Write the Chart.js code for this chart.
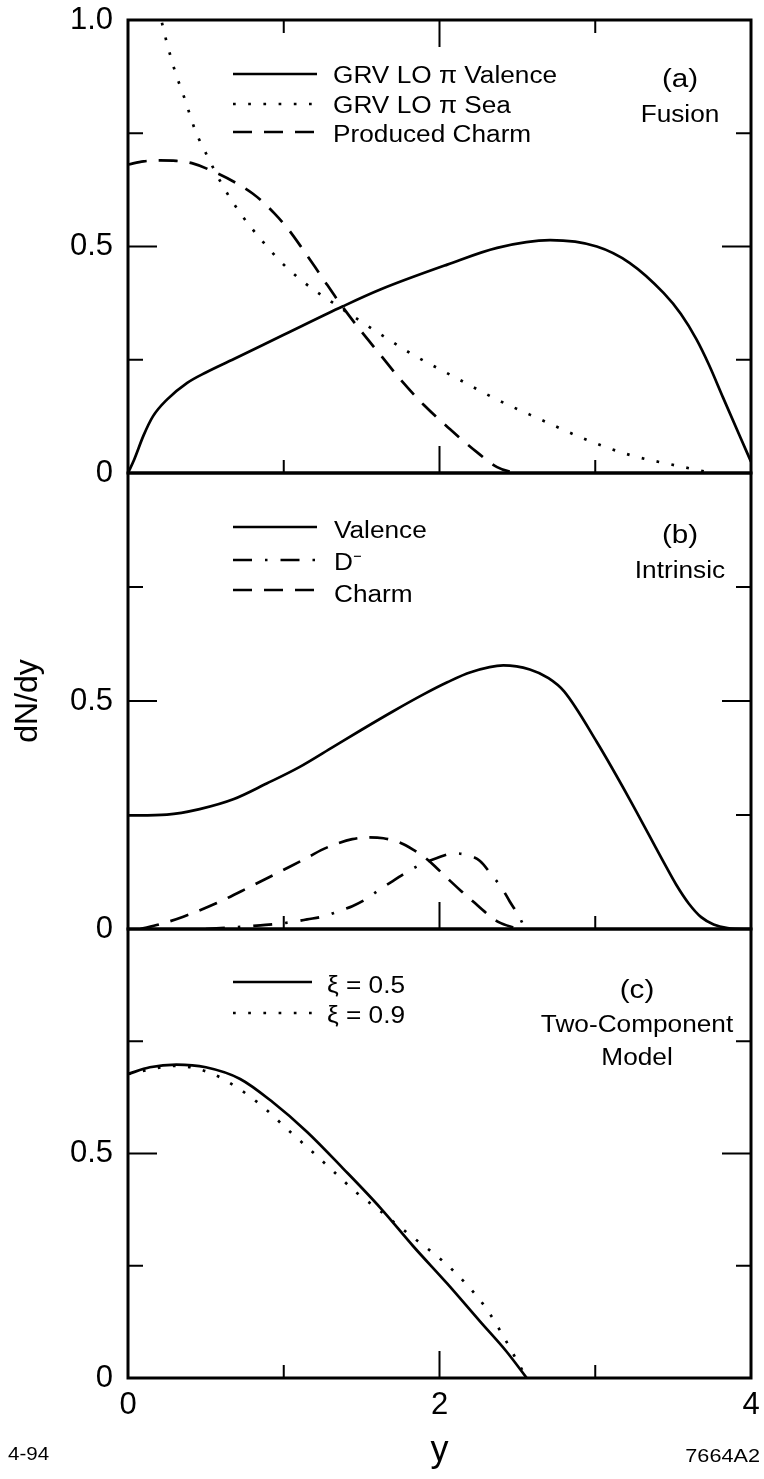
<!DOCTYPE html>
<html>
<head>
<meta charset="utf-8">
<title>dN/dy</title>
<script src="https://cdn.jsdelivr.net/npm/chart.js@4.4.1/dist/chart.umd.min.js"></script>
<style>
  body { margin: 0; background: #fff; }
  #page { position: relative; width: 764px; height: 1479px; overflow: hidden; background: #fff; }
  #page canvas { position: absolute; left: 0; }
</style>
</head>
<body>
<div id="page">
  <canvas id="panelA" width="764" height="500" style="top:0px"></canvas>
  <canvas id="panelB" width="764" height="500" style="top:450px"></canvas>
  <canvas id="panelC" width="764" height="579" style="top:900px"></canvas>
</div>
<script>
const FONT = '"Liberation Sans", Arial, Helvetica, sans-serif';
const STRETCH = 1.14; // the original lettering is a bit wide

// axis ticks (inner tick marks)
const yMarks = [0.25, 0.5, 0.75];
const xMarks = [1, 2, 3];

// (a) Fusion
const fusionValenceX = [0, 0.04, 0.1, 0.16, 0.25, 0.38, 0.5, 0.7, 1.0, 1.38, 1.62, 2.05, 2.37, 2.71, 3.01, 3.22, 3.44, 3.55, 3.65, 3.73, 3.82, 3.93, 4.0];
const fusionValenceY = [0, 0.03, 0.083, 0.125, 0.162, 0.199, 0.222, 0.255, 0.305, 0.368, 0.405, 0.46, 0.497, 0.514, 0.5, 0.464, 0.397, 0.351, 0.295, 0.239, 0.167, 0.08, 0.025];
const fusionSeaX = [0.18, 0.216, 0.29, 0.366, 0.43, 0.516, 0.61, 0.72, 0.85, 0.985, 1.14, 1.31, 1.48, 1.65, 1.82, 2.09, 2.37, 2.65, 2.94, 3.22, 3.54, 3.75];
const fusionSeaY = [1.06, 0.997, 0.9, 0.824, 0.758, 0.695, 0.633, 0.574, 0.517, 0.465, 0.418, 0.377, 0.338, 0.3, 0.263, 0.213, 0.162, 0.118, 0.074, 0.04, 0.015, 0];
const fusionCharmX = [0, 0.1, 0.205, 0.31, 0.41, 0.57, 0.72, 0.8, 0.87, 0.94, 1.02, 1.12, 1.24, 1.36, 1.49, 1.62, 1.75, 1.9, 2.07, 2.24, 2.37, 2.45, 2.52];
const fusionCharmY = [0.681, 0.688, 0.69, 0.689, 0.684, 0.662, 0.635, 0.617, 0.597, 0.573, 0.542, 0.495, 0.435, 0.375, 0.316, 0.261, 0.206, 0.15, 0.096, 0.046, 0.013, 0.003, 0];

// (b) Intrinsic
const intrValenceX = [0, 0.25, 0.46, 0.68, 0.89, 1.1, 1.32, 1.5, 1.7, 1.9, 2.05, 2.2, 2.41, 2.58, 2.7, 2.8, 3.01, 3.22, 3.44, 3.52, 3.6, 3.68, 3.76, 3.85, 3.95, 4.0];
const intrValenceY = [0.249, 0.251, 0.263, 0.285, 0.319, 0.355, 0.4, 0.437, 0.477, 0.515, 0.541, 0.563, 0.578, 0.569, 0.55, 0.521, 0.41, 0.285, 0.146, 0.097, 0.056, 0.026, 0.01, 0.002, 0, 0];
const intrDX = [0.5, 0.7, 0.85, 1.05, 1.15, 1.27, 1.35, 1.44, 1.54, 1.62, 1.7, 1.8, 1.89, 1.98, 2.09, 2.18, 2.26, 2.34, 2.4, 2.45, 2.51, 2.55];
const intrDY = [0, 0.004, 0.008, 0.015, 0.021, 0.029, 0.039, 0.05, 0.068, 0.088, 0.105, 0.127, 0.143, 0.155, 0.166, 0.162, 0.149, 0.116, 0.09, 0.061, 0.028, 0];
const intrCharmX = [0.08, 0.2, 0.355, 0.57, 0.78, 1.0, 1.16, 1.24, 1.34, 1.44, 1.54, 1.64, 1.74, 1.83, 1.92, 1.99, 2.07, 2.14, 2.22, 2.3, 2.38, 2.47, 2.52];
const intrCharmY = [0, 0.01, 0.027, 0.057, 0.092, 0.13, 0.158, 0.173, 0.187, 0.197, 0.201, 0.199, 0.19, 0.174, 0.153, 0.131, 0.105, 0.083, 0.059, 0.035, 0.015, 0.004, 0];

// (c) Two-Component Model
const xi05X = [0, 0.14, 0.31, 0.5, 0.72, 0.93, 1.15, 1.38, 1.62, 1.83, 2.05, 2.26, 2.43, 2.56];
const xi05Y = [0.677, 0.692, 0.698, 0.692, 0.666, 0.614, 0.548, 0.467, 0.379, 0.294, 0.21, 0.126, 0.059, 0];
const xi09X = [0, 0.31, 0.525, 0.7, 0.87, 1.02, 1.17, 1.32, 1.47, 1.62, 1.7, 1.86, 2.02, 2.17, 2.3, 2.4, 2.5, 2.56];
const xi09Y = [0.677, 0.695, 0.68, 0.647, 0.603, 0.555, 0.508, 0.46, 0.412, 0.372, 0.349, 0.305, 0.261, 0.21, 0.155, 0.099, 0.037, 0];

const pts = (xs, ys) => xs.map((x, i) => ({ x: x, y: ys[i] }));

function line(label, xs, ys, dash) {
    return {
        label: label,
        data: pts(xs, ys),
        borderColor: '#000',
        borderWidth: 2.7,
        borderDash: dash,
        pointRadius: 0,
        fill: false,
        tension: 0.4,
        cubicInterpolationMode: 'monotone'
    };
}

const SOLID = [];
const DOTS = [2.7, 12.5];
const DASH = [19, 12];
const DASHDOT = [19, 13, 2.5, 13];

// box, inner ticks
const framePlugin = {
    id: 'frame',
    afterDatasetsDraw(chart, args, opts) {
        const ctx = chart.ctx;
        const a = chart.chartArea;
        const xs = chart.scales.x, ys = chart.scales.y;
        ctx.save();
        ctx.strokeStyle = '#000';
        ctx.lineWidth = 2;
        ctx.beginPath();
        yMarks.forEach(v => {
            const py = ys.getPixelForValue(v);
            const len = v === 0.5 ? 29 : 15;
            ctx.moveTo(a.left, py); ctx.lineTo(a.left + len, py);
            ctx.moveTo(a.right, py); ctx.lineTo(a.right - len, py);
        });
        xMarks.forEach(v => {
            const px = xs.getPixelForValue(v);
            const len = v === 2 ? 27 : 13;
            ctx.moveTo(px, a.bottom); ctx.lineTo(px, a.bottom - len);
            if (opts.topTicks) { ctx.moveTo(px, a.top); ctx.lineTo(px, a.top + len); }
        });
        ctx.stroke();
        ctx.lineWidth = 3;
        ctx.strokeRect(a.left, a.top, a.right - a.left, a.bottom - a.top);
        ctx.restore();
    }
};

function wideText(ctx, text, x, y, size, align) {
    ctx.save();
    ctx.font = size + 'px ' + FONT;
    ctx.textAlign = align || 'left';
    ctx.textBaseline = 'alphabetic';
    ctx.translate(x, y);
    ctx.scale(STRETCH, 1);
    ctx.fillText(text, 0, 0);
    ctx.restore();
}

// legend rows and panel captions
const notesPlugin = {
    id: 'notes',
    afterDraw(chart, args, opts) {
        const ctx = chart.ctx;
        ctx.save();
        ctx.fillStyle = '#000';
        ctx.strokeStyle = '#000';
        const lg = opts.legend;
        if (lg) {
            chart.data.datasets.forEach((ds, i) => {
                ctx.beginPath();
                ctx.lineWidth = ds.borderWidth;
                ctx.setLineDash(ds.borderDash || []);
                ctx.moveTo(lg.x0, lg.lines[i]);
                ctx.lineTo(lg.x1, lg.lines[i]);
                ctx.stroke();
                wideText(ctx, ds.label, lg.textX, lg.base[i], 23, 'left');
            });
            ctx.setLineDash([]);
        }
        (opts.texts || []).forEach(t => wideText(ctx, t.text, t.x, t.y, t.size, t.align));
        ctx.restore();
    }
};

// tick labels may hang over the edges, the layout padding decides the plot box
function noScalePadding(s) {
    s.paddingTop = 0;
    s.paddingBottom = 0;
    s.paddingLeft = 0;
    s.paddingRight = 0;
}

function makePanel(id, datasets, cfg) {
    return new Chart(document.getElementById(id), {
        type: 'line',
        data: { datasets: datasets },
        options: {
            responsive: false,
            animation: false,
            devicePixelRatio: 1,
            layout: { padding: cfg.padding },
            plugins: {
                legend: { display: false },
                tooltip: { enabled: false },
                frame: { topTicks: cfg.topTicks },
                notes: cfg.notes
            },
            scales: {
                x: {
                    type: 'linear',
                    min: 0,
                    max: 4,
                    display: cfg.showX,
                    grid: { display: false, drawTicks: false },
                    border: { display: false },
                    ticks: {
                        stepSize: 2,
                        padding: 9,
                        color: '#000',
                        maxRotation: 0,
                        font: { family: FONT, size: 31 },
                        callback: v => String(v)
                    },
                    title: cfg.xTitle || { display: false },
                    afterFit: s => { s.height = cfg.xHeight || 0; noScalePadding(s); }
                },
                y: {
                    type: 'linear',
                    min: 0,
                    max: 1,
                    grid: { display: false, drawTicks: false },
                    border: { display: false },
                    ticks: {
                        stepSize: 0.5,
                        padding: 15,
                        color: '#000',
                        font: { family: FONT, size: 31 },
                        callback: v => v === 0 ? '0' : v === 0.5 ? '0.5' : (cfg.topLabel ? '1.0' : '')
                    },
                    title: cfg.yTitle || { display: false },
                    afterFit: s => { s.width = 128; noScalePadding(s); }
                }
            }
        },
        plugins: [framePlugin, notesPlugin]
    });
}

makePanel('panelA', [
    line('GRV LO \u03c0 Valence', fusionValenceX, fusionValenceY, SOLID),
    line('GRV LO \u03c0 Sea', fusionSeaX, fusionSeaY, DOTS),
    line('Produced Charm', fusionCharmX, fusionCharmY, DASH)
], {
    padding: { top: 20, bottom: 27, left: 0, right: 13 },
    showX: false,
    topTicks: true,
    topLabel: true,
    notes: {
        legend: { x0: 233, x1: 317, textX: 333, lines: [74, 104, 132], base: [83, 113, 142] },
        texts: [
            { text: '(a)', x: 680, y: 87, size: 26, align: 'center' },
            { text: 'Fusion', x: 680, y: 122, size: 23, align: 'center' }
        ]
    }
});

makePanel('panelB', [
    line('Valence', intrValenceX, intrValenceY, SOLID),
    line('D\u207b', intrDX, intrDY, DASHDOT),
    line('Charm', intrCharmX, intrCharmY, DASH)
], {
    padding: { top: 23, bottom: 21, left: 0, right: 13 },
    showX: false,
    topTicks: false,
    topLabel: false,
    yTitle: { display: true, text: 'dN/dy', color: '#000', font: { family: FONT, size: 32 }, padding: { top: 9, bottom: 0 } },
    notes: {
        legend: { x0: 233, x1: 317, textX: 334, lines: [77, 110, 140], base: [88, 120, 152] },
        texts: [
            { text: '(b)', x: 680, y: 93, size: 26, align: 'center' },
            { text: 'Intrinsic', x: 680, y: 128, size: 23, align: 'center' }
        ]
    }
});

makePanel('panelC', [
    line('\u03be = 0.5', xi05X, xi05Y, SOLID),
    line('\u03be = 0.9', xi09X, xi09Y, DOTS)
], {
    padding: { top: 29, bottom: 0, left: 0, right: 13 },
    showX: true,
    xHeight: 101,
    topTicks: false,
    topLabel: false,
    xTitle: { display: true, text: 'y', color: '#000', font: { family: FONT, size: 36 }, padding: { top: 0, bottom: 6 } },
    notes: {
        legend: { x0: 233, x1: 312, textX: 327, lines: [82, 113], base: [93, 123] },
        texts: [
            { text: '(c)', x: 637, y: 98, size: 26, align: 'center' },
            { text: 'Two-Component', x: 637, y: 132, size: 23, align: 'center' },
            { text: 'Model', x: 637, y: 165, size: 23, align: 'center' },
            { text: '4-94', x: 8, y: 560, size: 18, align: 'left' },
            { text: '7664A2', x: 760, y: 562, size: 19, align: 'right' }
        ]
    }
});
</script>
</body>
</html>
